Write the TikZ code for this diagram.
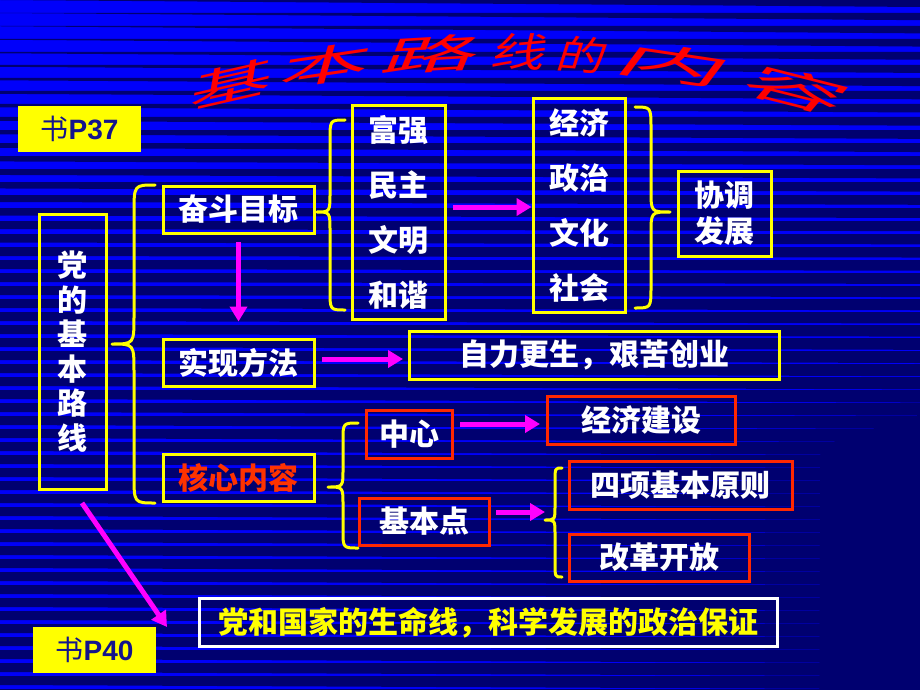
\documentclass[tikz,border=0pt]{standalone}
\usepackage{fontspec}
\setmainfont{Liberation Sans}
\newfontfamily\cjk{Noto Sans CJK SC}
\usetikzlibrary{arrows.meta,calc}

\definecolor{bgblue}{RGB}{0,0,250}
\definecolor{bgdark}{RGB}{0,0,112}
\definecolor{yel}{RGB}{255,255,0}
\definecolor{redb}{RGB}{255,40,0}
\definecolor{corered}{RGB}{255,50,0}
\definecolor{mag}{RGB}{255,0,255}
\definecolor{navyt}{RGB}{20,20,140}
\definecolor{titred}{RGB}{255,0,0}

\newcommand{\ybrace}[7]{%
  \draw[bracestyle] (#1,#4) .. controls (#2,#4) .. (#2,{#4+#7}) -- (#2,{#5-#7})
    .. controls (#2,#5) .. (#3,#5) .. controls (#2,#5) .. (#2,{#5+#7})
    -- (#2,{#6-#7}) .. controls (#2,#6) .. (#1,#6);}

\begin{document}
\begin{tikzpicture}[x=1pt,y=-1pt,
  txt/.style={font=\cjk\bfseries\fontsize{30}{34}\selectfont, text=white, align=center, inner sep=0pt},
  ybox/.style={txt, draw=yel, line width=3pt},
  rbox/.style={txt, draw=redb, line width=3pt},
  wbox/.style={txt, draw=white, line width=3pt, text=yel},
  pbox/.style={fill=yel, inner sep=0pt, text=navyt, font=\fontsize{28}{30}\selectfont},
  marrow/.style={draw=mag, line width=5pt, -{Triangle[length=15pt,width=17pt]}},
  bracestyle/.style={draw=yel, line width=3pt, line cap=round, line join=round},
  titlech/.style={font=\cjk\fontsize{40}{40}\selectfont, inner sep=0pt, text=titred},
]
\useasboundingbox (0,0) rectangle (920,690);
% background stripes
\fill[bgblue] (0,0) rectangle (920,690);
\foreach \k in {0,...,53}{
  \pgfmathsetmacro{\ya}{13*\k}
  \pgfmathsetmacro{\tlft}{min(9,max(0,(\ya-20)/25))}
  \pgfmathsetmacro{\trgt}{min(13.2,7+\ya/70)}
  \fill[bgdark] (0,\ya) -- (920,\ya) -- (920,\ya+\trgt) -- (0,\ya+\tlft) -- cycle;
}

% title (WordArt-like arc)
\foreach \c/\x/\w in {基/232/84, 本/327/90, 路/433/96, 线/521/54, 的/583/48, 内/675/108, 容/797/100}{
  \pgfmathsetmacro{\yy}{52+4.3*((\x-500)/100)^2}
  \pgfmathsetmacro{\rr}{-atan(0.00086*(\x-500))}
  \pgfmathsetmacro{\sx}{\w/40}
  \node[titlech, rotate=\rr, xscale=\sx, xslant=0.2] (t\x) at (\x,\yy) {\c};
}

% page tags
\node[pbox, minimum width=123pt, minimum height=46pt] (p37) at (79.5,129) {{\cjk 书}\textbf{P37}};
\node[pbox, minimum width=123pt, minimum height=46pt] (p40) at (94.5,650) {{\cjk 书}\textbf{P40}};

% main boxes
\node[ybox, minimum width=67pt, minimum height=275pt, font=\cjk\bfseries\fontsize{30}{34.5}\selectfont] (main) at (72.5,351.5) {党\\的\\基\\本\\路\\线};
\node[ybox, minimum width=151pt, minimum height=47pt] (goal) at (238.5,209.5) {奋斗目标};
\node[ybox, minimum width=151pt, minimum height=47pt] (method) at (238.5,362.5) {实现方法};
\node[ybox, minimum width=151pt, minimum height=47pt, text=corered] (core) at (238.5,477.5) {核心内容};

\node[ybox, minimum width=93pt, minimum height=213pt, font=\cjk\bfseries\fontsize{30}{55}\selectfont] (four) at (398.5,212.5) {富强\\民主\\文明\\和谐};
\node[ybox, minimum width=92pt, minimum height=213pt, font=\cjk\bfseries\fontsize{30}{55}\selectfont] (five) at (579,205.5) {经济\\政治\\文化\\社会};
\node[ybox, minimum width=93pt, minimum height=85pt, font=\cjk\bfseries\fontsize{30}{36}\selectfont] (coord) at (724.5,213.5) {协调\\发展};

\node[ybox, minimum width=370pt, minimum height=48pt] (self) at (594,355) {自力更生，艰苦创业};

\node[rbox, minimum width=86pt, minimum height=48pt] (ctr) at (409,434) {中心};
\node[rbox, minimum width=188pt, minimum height=48pt] (econ) at (641,420) {经济建设};
\node[rbox, minimum width=130pt, minimum height=47pt] (basic) at (424,521.5) {基本点};
\node[rbox, minimum width=223pt, minimum height=48pt] (fourp) at (680.5,485) {四项基本原则};
\node[rbox, minimum width=180pt, minimum height=47pt] (reform) at (659,557.5) {改革开放};

\node[wbox, minimum width=578pt, minimum height=48pt] (life) at (488,622.5) {党和国家的生命线，科学发展的政治保证};

% braces
\ybrace{155}{134}{112}{185}{344}{503}{28}
\ybrace{345}{330}{317}{120}{212}{310}{20}
\ybrace{635}{651}{670}{107}{212}{308}{22}
\ybrace{358}{343}{328}{423}{487}{548}{18}
\ybrace{562}{555}{545}{468}{520}{577}{14}
\coordinate (b5tip) at (545,520);
\coordinate (lifeend) at (167,627);

% arrows
\draw[marrow, shorten <=7.5pt, shorten >=16pt] (goal.south) -- (method.north);
\draw[marrow] ([xshift=6.5pt,yshift=5.5pt]four.east) coordinate (a1) -- (a1 -| five.west);
\draw[marrow, shorten >=4.5pt] ([xshift=6.5pt,yshift=3.5pt]method.east) coordinate (a2) -- (a2 -| self.west);
\draw[marrow, shorten >=5.5pt] ([xshift=6.5pt,yshift=10pt]ctr.east) coordinate (a3) -- (a3 -| econ.west);
\draw[marrow] ([xshift=5.5pt,yshift=9.5pt]basic.east) coordinate (a4) -- (a4 -| b5tip);
\draw[marrow] ([xshift=9.5pt,yshift=-12.5pt]main.south) -- (lifeend);
\end{tikzpicture}
\end{document}
